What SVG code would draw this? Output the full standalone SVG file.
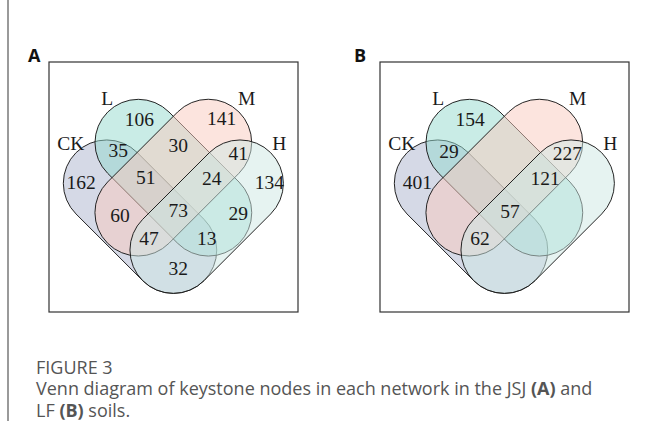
<svg xmlns="http://www.w3.org/2000/svg" width="647" height="421" viewBox="0 0 647 421">
<style>
.box{fill:none;stroke:#333;stroke-width:1.2}
.set{stroke:#1a1a1a;stroke-width:0.9;fill-opacity:0.5}
.ck{fill:#abb3cd}
.l{fill:#93d9cd}
.m{fill:#f9c9bd}
.h{fill:#cde7e3}
.n{font-family:"Liberation Serif","Times New Roman",serif;font-size:19.5px;fill:#1a1a1a;text-anchor:middle}
.pl{font-family:"Open Sans","Liberation Sans",sans-serif;font-size:18px;font-weight:bold;fill:#111}
.cap{font-family:"Open Sans","Liberation Sans",sans-serif;font-size:18px;fill:#555}
</style>
<rect width="647" height="421" fill="#fff"/>
<line x1="8" y1="0" x2="8" y2="421" stroke="#9a9a9a" stroke-width="2"/>
<defs>
<g id="venn">
<rect class="set ck" x="49.5" y="173.3" width="181" height="86.7" rx="43.3" transform="rotate(45 140 216.7)"/>
<rect class="set l" x="80.5" y="134.3" width="185.7" height="86.7" rx="43.3" transform="rotate(45 173.3 177.7)"/>
<rect class="set m" x="80.5" y="134.3" width="185.7" height="86.7" rx="43.3" transform="rotate(-45 173.3 177.7)"/>
<rect class="set h" x="116.2" y="173.3" width="181" height="86.7" rx="43.3" transform="rotate(-45 206.7 216.7)"/>
<text class="n" x="107.3" y="105">L</text>
<text class="n" x="246.7" y="105">M</text>
<text class="n" x="70.7" y="150">CK</text>
<text class="n" x="279.3" y="150">H</text>
</g>
</defs>
<g id="panelA">
<rect class="box" x="49" y="62" width="249" height="250"/>
<text class="pl" x="28" y="62">A</text>
<use href="#venn"/>
<g id="numbersA">
<text class="n" x="139.3" y="126">106</text>
<text class="n" x="221.7" y="125">141</text>
<text class="n" x="118.3" y="156.5">35</text>
<text class="n" x="178.3" y="151.5">30</text>
<text class="n" x="238.3" y="160">41</text>
<text class="n" x="81" y="188.5">162</text>
<text class="n" x="145.7" y="183.5">51</text>
<text class="n" x="211.7" y="184.5">24</text>
<text class="n" x="269.3" y="188.5">134</text>
<text class="n" x="178.3" y="216.5">73</text>
<text class="n" x="120" y="221.5">60</text>
<text class="n" x="238.3" y="219.5">29</text>
<text class="n" x="149" y="245">47</text>
<text class="n" x="206.7" y="245">13</text>
<text class="n" x="178.3" y="275">32</text>
</g>
</g>
<g id="panelB">
<rect class="box" x="380" y="62" width="249" height="250"/>
<text class="pl" x="354" y="62">B</text>
<use href="#venn" transform="translate(331 0)"/>
<g id="numbersB">
<text class="n" x="470" y="126">154</text>
<text class="n" x="449" y="157.5">29</text>
<text class="n" x="567.3" y="159.5">227</text>
<text class="n" x="417.3" y="188.5">401</text>
<text class="n" x="545" y="184.5">121</text>
<text class="n" x="510" y="217.5">57</text>
<text class="n" x="480" y="245">62</text>
</g>
</g>
<g id="caption">
<text class="cap" x="36" y="374" font-size="11.5">FIGURE 3</text>
<text class="cap" x="36" y="395">Venn diagram of keystone nodes in each network in the JSJ <tspan font-weight="bold">(A)</tspan> and</text>
<text class="cap" x="36" y="416.5">LF <tspan font-weight="bold">(B)</tspan> soils.</text>
</g>
</svg>
